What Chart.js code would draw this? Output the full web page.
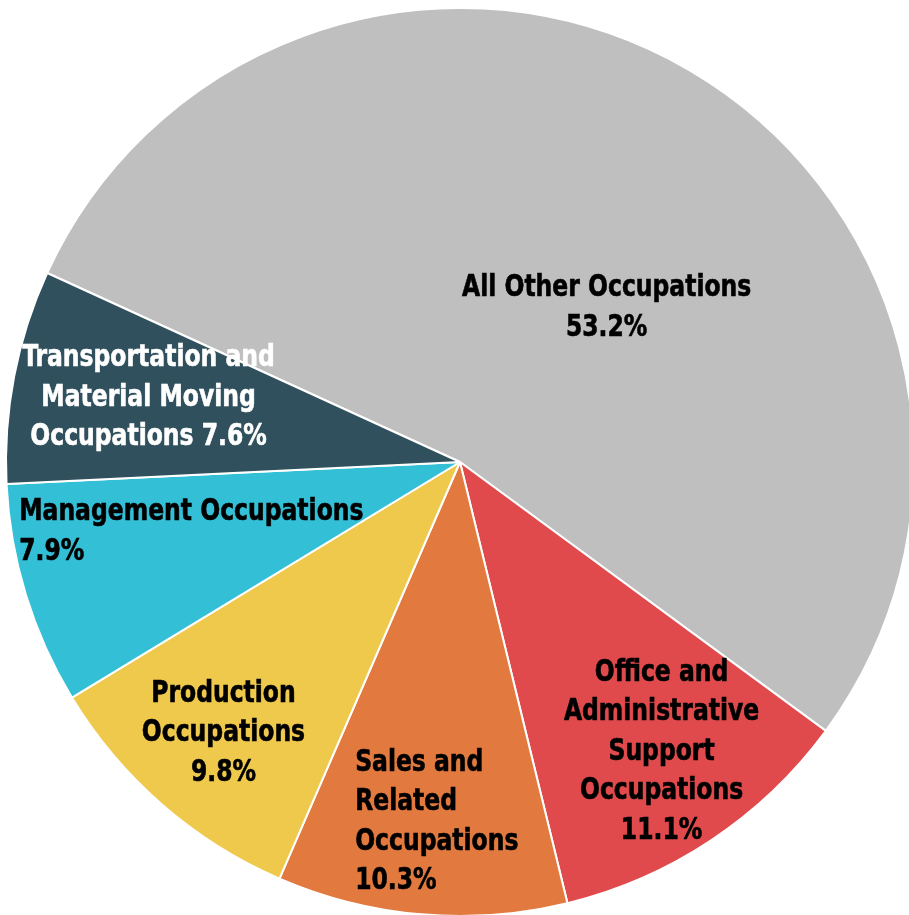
<!DOCTYPE html>
<html>
<head>
<meta charset="utf-8">
<script src="https://cdn.jsdelivr.net/npm/chart.js@4"></script>
<style>
  html, body { margin: 0; padding: 0; background: #fff; overflow: hidden; }
  #grafico { position: absolute; left: 0; top: 0; }
</style>
</head>
<body>
<canvas id="grafico" width="920" height="924"></canvas>
<script>
// dados do gráfico
const categorias = [
  "All Other Occupations",
  "Office and Administrative Support Occupations",
  "Sales and Related Occupations",
  "Production Occupations",
  "Management Occupations",
  "Transportation and Material Moving Occupations"
];
const percentuais = [53.2, 11.1, 10.3, 9.8, 7.9, 7.6];
const rotulos = [
  ["All Other Occupations", "53.2%"],
  ["Office and", "Administrative", "Support", "Occupations", "11.1%"],
  ["Sales and", "Related", "Occupations", "10.3%"],
  ["Production", "Occupations", "9.8%"],
  ["Management Occupations", "7.9%"],
  ["Transportation and", "Material Moving", "Occupations 7.6%"]
];
const cores = ["#BFBFBF", "#E04A4C", "#E27A3F", "#EEC94C", "#33BFD5", "#2F505C"];

// posição dos rótulos (fração do raio a partir do centro)
const posRotulos = [
  { dx: 0.323, dy: -0.339, align: "center", cor: "#000" },
  { dx: 0.444, dy: 0.639, align: "center", cor: "#000" },
  { dx: -0.231, dy: 0.793, align: "left", cor: "#000" },
  { dx: -0.521, dy: 0.598, align: "center", cor: "#000" },
  { dx: -0.971, dy: 0.155, align: "left", cor: "#000" },
  { dx: -0.686, dy: -0.141, align: "center", cor: "#fff" }
];

const pluginRotulos = {
  id: "rotulos",
  afterDatasetsDraw(chart) {
    const ctx = chart.ctx;
    const arcos = chart.getDatasetMeta(0).data;
    const escalaX = 0.87; // fonte condensada
    ctx.save();
    ctx.font = "bold 30px 'DejaVu Sans Condensed', 'DejaVu Sans', sans-serif";
    ctx.textBaseline = "middle";
    ctx.lineWidth = 0.6;
    arcos.forEach((arco, i) => {
      const p = posRotulos[i];
      const linhas = rotulos[i];
      const r = arco.outerRadius;
      const x = arco.x + p.dx * r;
      const yMeio = arco.y + p.dy * r;
      const alt = 39.5;
      ctx.fillStyle = p.cor;
      ctx.strokeStyle = p.cor;
      ctx.textAlign = p.align;
      linhas.forEach((linha, j) => {
        const y = yMeio + (j - (linhas.length - 1) / 2) * alt;
        ctx.save();
        ctx.translate(x, y);
        ctx.scale(escalaX, 1);
        ctx.fillText(linha, 0, 0);
        ctx.strokeText(linha, 0, 0);
        ctx.restore();
      });
    });
    ctx.restore();
  }
};

const ctx = document.getElementById("grafico").getContext("2d");

new Chart(ctx, {
  type: "pie",
  data: {
    labels: categorias,
    datasets: [{
      data: percentuais,
      backgroundColor: cores,
      borderColor: "#fff",
      borderWidth: 2
    }]
  },
  options: {
    responsive: false,
    animation: false,
    rotation: -65.4,
    layout: { padding: 5 },
    plugins: {
      legend: { display: false },
      tooltip: { enabled: false }
    }
  },
  plugins: [pluginRotulos]
});
</script>
</body>
</html>
